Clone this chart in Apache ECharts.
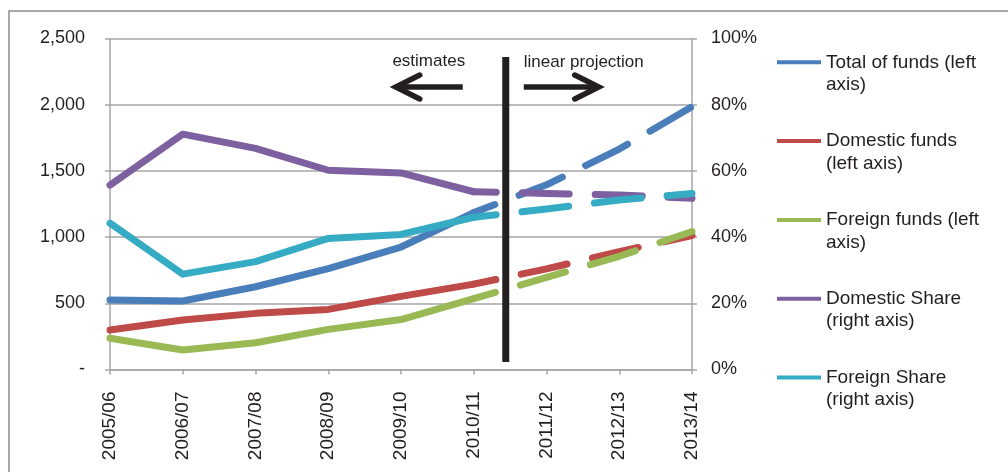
<!DOCTYPE html>
<html>
<head>
<meta charset="utf-8">
<script src="https://cdn.jsdelivr.net/npm/echarts@6/dist/echarts.min.js"></script>
<style>
  html, body { margin: 0; padding: 0; background: #ffffff; }
  #chart { width: 1008px; height: 472px; }
</style>
</head>
<body>
<div id="chart"></div>
<script>
// Financial years on the category axis
const years = ['2005/06', '2006/07', '2007/08', '2008/09', '2009/10', '2010/11', '2011/12', '2012/13', '2013/14'];

// Funds (left axis)
const totalFunds    = [525, 517, 625, 762, 925, 1185, 1395, 1665, 1985];
const domesticFunds = [298, 374, 424, 454, 552, 645, 760, 890, 1012];
const foreignFunds  = [236, 147, 202, 303, 377, 535, 695, 855, 1042];

// Shares (right axis, fraction of total)
const domesticShare = [0.557, 0.711, 0.668, 0.602, 0.594, 0.537, 0.532, 0.527, 0.517];
const foreignShare  = [0.442, 0.288, 0.326, 0.396, 0.408, 0.460, 0.485, 0.512, 0.532];

// Left-axis ticks and right-axis ticks
const leftTicks  = [0, 500, 1000, 1500, 2000, 2500];
const rightTicks = [0, 0.2, 0.4, 0.6, 0.8, 1.0];

// Last year that is an estimate; later years are a linear projection
const lastEstimate = '2010/11';

const seriesDefs = [
  { name: 'Total of funds (left axis)',  label: 'Total of funds (left\naxis)',  data: totalFunds,    axis: 0, color: '#4a7ebb' },
  { name: 'Domestic funds (left axis)',  label: 'Domestic funds\n(left axis)',  data: domesticFunds, axis: 0, color: '#be4b48' },
  { name: 'Foreign funds (left axis)',   label: 'Foreign funds (left\naxis)',   data: foreignFunds,  axis: 0, color: '#98b954' },
  { name: 'Domestic Share (right axis)', label: 'Domestic Share\n(right axis)', data: domesticShare, axis: 1, color: '#7d60a0' },
  { name: 'Foreign Share (right axis)',  label: 'Foreign Share\n(right axis)',  data: foreignShare,  axis: 1, color: '#35abc4' }
];

const FONT = '"Liberation Sans", Arial, Helvetica, sans-serif';
const TEXT = '#231f20';
const GRID_GREY = '#a6a6a6';
const LINE_W = 7;

const cut = years.indexOf(lastEstimate);

// Each line is split into a solid estimate part and a dashed projection part
const series = [];
seriesDefs.forEach(function (d) {
  const solid = d.data.map(function (v, i) { return i <= cut ? v : null; });
  const dashed = d.data.map(function (v, i) { return i >= cut ? v : null; });
  series.push({
    name: d.name, type: 'line', yAxisIndex: d.axis, data: solid,
    showSymbol: false, symbol: 'none', silent: true,
    lineStyle: { color: d.color, width: LINE_W, cap: 'round', join: 'round' },
    itemStyle: { color: d.color }
  });
  series.push({
    name: d.name, type: 'line', yAxisIndex: d.axis, data: dashed,
    showSymbol: false, symbol: 'none', silent: true,
    lineStyle: { color: d.color, width: LINE_W, cap: 'round', join: 'round', type: [47, 26], dashOffset: 24.5 },
    itemStyle: { color: d.color }
  });
});

const labelMap = {};
seriesDefs.forEach(function (d) { labelMap[d.name] = '\n' + d.label; });

const chart = echarts.init(document.getElementById('chart'), null, { renderer: 'canvas' });

const option = {
  animation: false,
  backgroundColor: '#ffffff',
  grid: { left: 110, right: 316, top: 38.5, bottom: 102.5, containLabel: false },
  legend: {
    orient: 'vertical',
    left: 777, top: 28.7,
    padding: 0,
    itemGap: 11.6,
    itemWidth: 44, itemHeight: 4,
    icon: 'rect',
    selectedMode: false,
    data: seriesDefs.map(function (d) { return d.name; }),
    formatter: function (name) { return labelMap[name]; },
    textStyle: { fontFamily: FONT, fontSize: 19, color: TEXT, lineHeight: 22.4 }
  },
  xAxis: {
    type: 'category',
    data: years,
    boundaryGap: false,
    axisLine: { lineStyle: { color: GRID_GREY, width: 1.5 } },
    axisTick: { show: true, length: 5, lineStyle: { color: GRID_GREY, width: 1.5 } },
    axisLabel: { rotate: 90, margin: 22, fontFamily: FONT, fontSize: 19, color: TEXT }
  },
  yAxis: [
    {
      type: 'value', min: leftTicks[0], max: leftTicks[leftTicks.length - 1], interval: 500,
      axisLine: { show: true, lineStyle: { color: GRID_GREY, width: 1.5 } },
      axisTick: { show: true, length: 5, lineStyle: { color: GRID_GREY, width: 1.5 } },
      splitLine: { show: true, lineStyle: { color: GRID_GREY, width: 1.5 } },
      axisLabel: {
        margin: 25, fontFamily: FONT, fontSize: 18, color: TEXT,
        formatter: function (v) { return v === 0 ? '-' : v.toLocaleString('en-US'); }
      }
    },
    {
      type: 'value', min: rightTicks[0], max: rightTicks[rightTicks.length - 1], interval: 0.2,
      position: 'right',
      axisLine: { show: true, lineStyle: { color: GRID_GREY, width: 1.5 } },
      axisTick: { show: true, length: 5, lineStyle: { color: GRID_GREY, width: 1.5 } },
      splitLine: { show: false },
      axisLabel: {
        margin: 19, fontFamily: FONT, fontSize: 18, color: TEXT,
        formatter: function (v) { return Math.round(v * 100) + '%'; }
      }
    }
  ],
  series: series
};

chart.setOption(option);

// Divider between estimates and projection, with its arrows and captions
const xa = chart.convertToPixel({ xAxisIndex: 0 }, lastEstimate);
const xb = chart.convertToPixel({ xAxisIndex: 0 }, years[cut + 1]);
const barX = xa + (xb - xa) * 0.44;
const barTop = chart.convertToPixel({ yAxisIndex: 0 }, 2360);
const barBottom = chart.convertToPixel({ yAxisIndex: 0 }, 57);
const arrowY = 87;
const ink = '#231f20';

chart.setOption({
  graphic: [
    // outer frame (top and left edges)
    { type: 'polyline', silent: true, shape: { points: [[9, 472], [9, 11], [1008, 11]] },
      style: { stroke: '#8c8c8c', lineWidth: 1.5, fill: null } },
    // vertical divider
    { type: 'line', silent: true, z: 100,
      shape: { x1: barX, y1: barTop, x2: barX, y2: barBottom },
      style: { stroke: ink, lineWidth: 7 } },
    // left arrow
    { type: 'polyline', silent: true, z: 100,
      shape: { points: [[barX - 43, arrowY], [barX - 110, arrowY]] },
      style: { stroke: ink, lineWidth: 5.5, fill: null } },
    { type: 'polyline', silent: true, z: 100,
      shape: { points: [[barX - 86, arrowY - 12], [barX - 110, arrowY], [barX - 86, arrowY + 12]] },
      style: { stroke: ink, lineWidth: 5.5, fill: null, lineCap: 'round', lineJoin: 'miter' } },
    // right arrow
    { type: 'polyline', silent: true, z: 100,
      shape: { points: [[barX + 18, arrowY], [barX + 92, arrowY]] },
      style: { stroke: ink, lineWidth: 5.5, fill: null } },
    { type: 'polyline', silent: true, z: 100,
      shape: { points: [[barX + 69, arrowY - 12], [barX + 93, arrowY], [barX + 69, arrowY + 12]] },
      style: { stroke: ink, lineWidth: 5.5, fill: null, lineCap: 'round', lineJoin: 'miter' } },
    // captions
    { type: 'text', silent: true, z: 100, x: barX - 77, y: 61,
      style: { text: 'estimates', font: '17px ' + FONT, fill: ink, align: 'center', verticalAlign: 'middle' } },
    { type: 'text', silent: true, z: 100, x: barX + 18, y: 62,
      style: { text: 'linear projection', font: '17px ' + FONT, fill: ink, align: 'left', verticalAlign: 'middle' } }
  ]
});
</script>
</body>
</html>
